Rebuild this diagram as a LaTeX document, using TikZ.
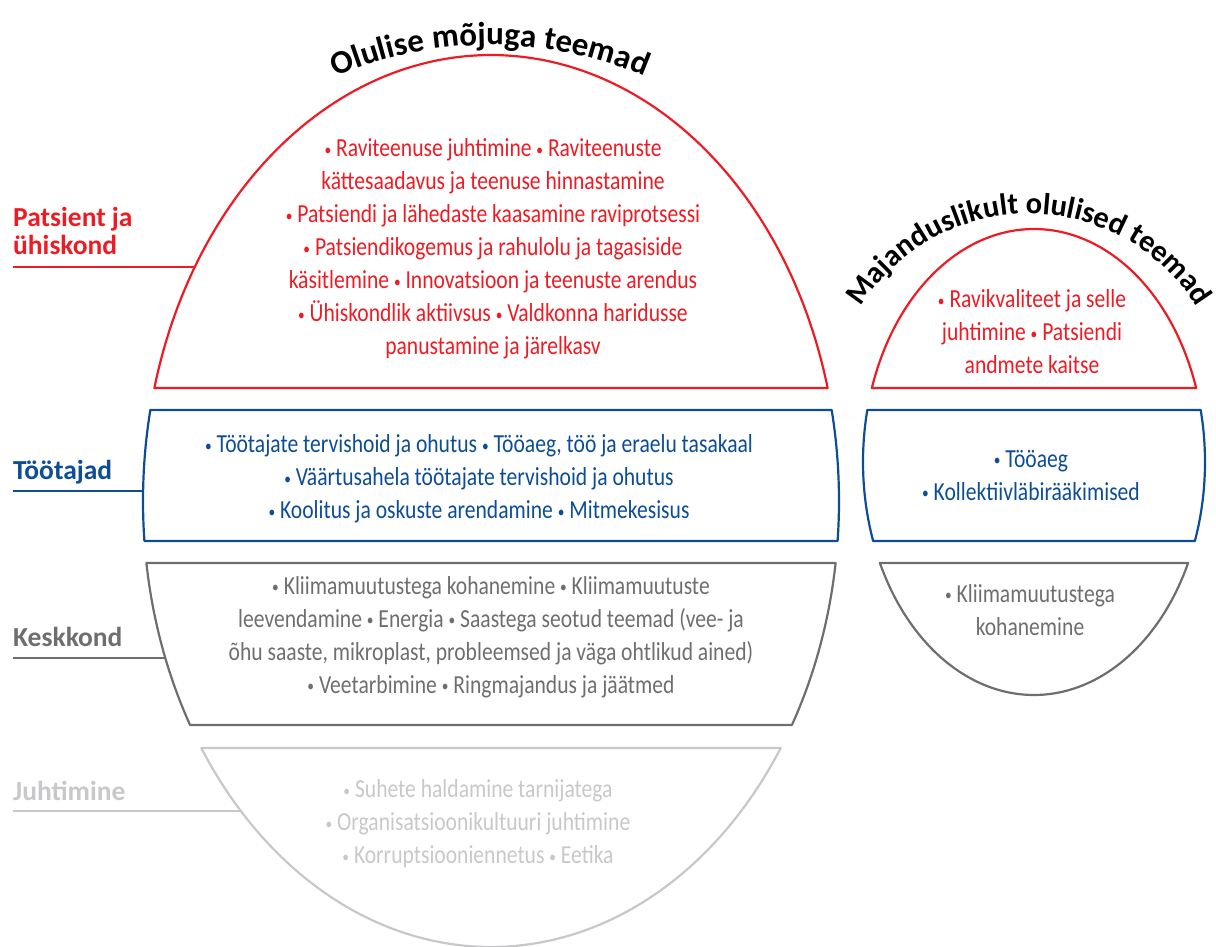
\documentclass[tikz,border=0pt]{standalone}
\usepackage{fontspec}
\setmainfont{Carlito}
\newfontfamily\condfont{Carlito}[FakeStretch=0.83]
\usetikzlibrary{decorations.text}

\definecolor{kred}{RGB}{237,28,36}
\definecolor{kblue}{RGB}{12,77,150}
\definecolor{kgray}{RGB}{110,110,112}
\definecolor{klight}{RGB}{200,200,202}

\newcommand{\bul}{\raisebox{0.06em}{\scalebox{0.62}{•}}}

% one horizontal band of an ellipse: cx, cy, a, b, y top, y bottom, style
\newcommand{\eggslice}[7]{%
  \pgfmathsetmacro{\tTop}{asin(((#5)-(#2))/(#4))}%
  \pgfmathsetmacro{\tBot}{asin(((#6)-(#2))/(#4))}%
  \pgfmathsetmacro{\lTop}{180-\tTop}%
  \pgfmathsetmacro{\lBot}{180-\tBot}%
  \draw[#7] plot[domain=\tTop:\tBot,samples=60] ({#1+#3*cos(\x)},{#2+#4*sin(\x)})
    -- plot[domain=\lBot:\lTop,samples=60] ({#1+#3*cos(\x)},{#2+#4*sin(\x)}) -- cycle;
}

\begin{document}
\begin{tikzpicture}[x=1pt,y=-1pt,
    band/.style={line width=2.2pt,line join=round},
    topics/.style={font=\condfont\fontsize{26}{33}\selectfont,align=center,inner sep=0pt},
    group/.style={font=\bfseries\fontsize{27.5}{27.5}\selectfont,align=left,anchor=base west,inner sep=0pt},
    leader/.style={line width=2pt},
    arctitle/.style 2 args={decorate,decoration={text along path,text align=center,
      text={|\bfseries\fontsize{#1}{#1}\selectfont|#2}}}]
  \useasboundingbox (0,0) rectangle (1216,947);

  \eggslice{491}{501}{348}{446}{55}{388}{band,kred}
  \eggslice{491}{501}{348}{446}{410}{541}{band,kblue}
  \eggslice{491}{501}{348}{446}{563}{725}{band,kgray}
  \eggslice{491}{501}{348}{446}{748}{947}{band,klight}

  \eggslice{1034}{462}{171}{233}{229}{388}{band,kred}
  \eggslice{1034}{462}{171}{233}{410}{541}{band,kblue}
  \eggslice{1034}{462}{171}{233}{563}{695}{band,kgray}

  \path[arctitle={33}{Olulise mõjuga teemad}] (490,440) ++(113.6:395pt) arc[start angle=113.6,end angle=66.4,radius=395pt];
  \path[arctitle={30.5}{Majanduslikult olulised teemad}] (1029,412) ++(160:198pt) arc[start angle=160,end angle=20,radius=198pt];

  \node[topics,kred] (patsient) at (493,249) {\bul{} Raviteenuse juhtimine \bul{} Raviteenuste\\
    kättesaadavus ja teenuse hinnastamine\\
    \bul{} Patsiendi ja lähedaste kaasamine raviprotsessi\\
    \bul{} Patsiendikogemus ja rahulolu ja tagasiside\\
    käsitlemine \bul{} Innovatsioon ja teenuste arendus\\
    \bul{} Ühiskondlik aktiivsus \bul{} Valdkonna haridusse\\
    panustamine ja järelkasv};
  \node[topics,kblue] (tootajad) at (479,479) {\bul{} Töötajate tervishoid ja ohutus \bul{} Tööaeg, töö ja eraelu tasakaal\\
    \bul{} Väärtusahela töötajate tervishoid ja ohutus\\
    \bul{} Koolitus ja oskuste arendamine \bul{} Mitmekesisus};
  \node[topics,kgray] (keskkond) at (491,637) {\bul{} Kliimamuutustega kohanemine \bul{} Kliimamuutuste\\
    leevendamine \bul{} Energia \bul{} Saastega seotud teemad (vee- ja\\
    õhu saaste, mikroplast, probleemsed ja väga ohtlikud ained)\\
    \bul{} Veetarbimine \bul{} Ringmajandus ja jäätmed};
  \node[topics,klight] (juhtimine) at (478,824) {\bul{} Suhete haldamine tarnijatega\\
    \bul{} Organisatsioonikultuuri juhtimine\\
    \bul{} Korruptsiooniennetus \bul{} Eetika};

  \node[topics,kred] (ravi) at (1032,332) {\bul{} Ravikvaliteet ja selle\\
    juhtimine \bul{} Patsiendi\\
    andmete kaitse};
  \node[topics,kblue] (tooaeg) at (1031,475) {\bul{} Tööaeg\\
    \bul{} Kollektiivläbirääkimised};
  \node[topics,kgray] (kliima) at (1030,610) {\bul{} Kliimamuutustega\\
    kohanemine};

  \node[group,kred] (gpatsient) at (13,254) {Patsient ja\\ühiskond};
  \node[group,kblue] (gtootajad) at (13,479) {Töötajad};
  \node[group,kgray] (gkeskkond) at (13,646) {Keskkond};
  \node[group,klight] (gjuhtimine) at (13,800) {Juhtimine};

  \coordinate (epatsient) at (195,267);
  \coordinate (etootajad) at (143,491);
  \coordinate (ekeskkond) at (165,658);
  \coordinate (ejuhtimine) at (241,811);
  \draw[leader,kred] (gpatsient.west |- epatsient) -- (epatsient);
  \draw[leader,kblue] (gtootajad.west |- etootajad) -- (etootajad);
  \draw[leader,kgray] (gkeskkond.west |- ekeskkond) -- (ekeskkond);
  \draw[leader,klight] (gjuhtimine.west |- ejuhtimine) -- (ejuhtimine);
\end{tikzpicture}
\end{document}
